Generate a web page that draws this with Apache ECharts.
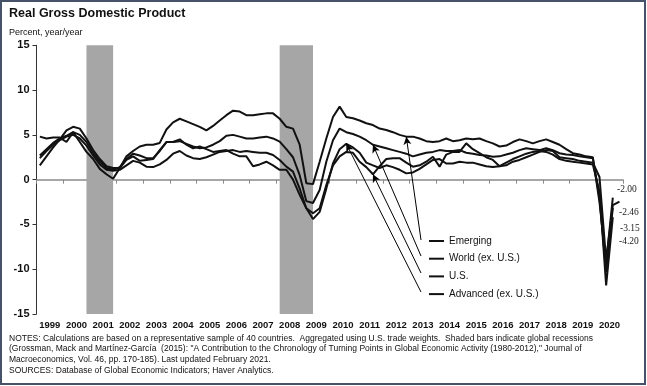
<!DOCTYPE html>
<html>
<head>
<meta charset="utf-8">
<script src="https://cdn.jsdelivr.net/npm/echarts@6/dist/echarts.min.js"></script>
<style>
html,body{margin:0;padding:0;background:#fff;}
#c{width:647px;height:386px;}
</style>
</head>
<body>
<div id="c"></div>
<script>
// ---- Data ----
const quarters = [
 '1999Q1','1999Q2','1999Q3','1999Q4','2000Q1','2000Q2','2000Q3','2000Q4',
 '2001Q1','2001Q2','2001Q3','2001Q4','2002Q1','2002Q2','2002Q3','2002Q4',
 '2003Q1','2003Q2','2003Q3','2003Q4','2004Q1','2004Q2','2004Q3','2004Q4',
 '2005Q1','2005Q2','2005Q3','2005Q4','2006Q1','2006Q2','2006Q3','2006Q4',
 '2007Q1','2007Q2','2007Q3','2007Q4','2008Q1','2008Q2','2008Q3','2008Q4',
 '2009Q1','2009Q2','2009Q3','2009Q4','2010Q1','2010Q2','2010Q3','2010Q4',
 '2011Q1','2011Q2','2011Q3','2011Q4','2012Q1','2012Q2','2012Q3','2012Q4',
 '2013Q1','2013Q2','2013Q3','2013Q4','2014Q1','2014Q2','2014Q3','2014Q4',
 '2015Q1','2015Q2','2015Q3','2015Q4','2016Q1','2016Q2','2016Q3','2016Q4',
 '2017Q1','2017Q2','2017Q3','2017Q4','2018Q1','2018Q2','2018Q3','2018Q4',
 '2019Q1','2019Q2','2019Q3','2019Q4','2020Q1','2020Q2','2020Q3','2020Q4'
];
const years = ['1999','2000','2001','2002','2003','2004','2005','2006','2007','2008','2009',
 '2010','2011','2012','2013','2014','2015','2016','2017','2018','2019','2020'];

const emerging = [
 1.6,2.6,3.6,4.5, 5.5,5.9,5.7,4.6, 3.3,2.3,1.5,1.3, 1.3,2.6,3.2,3.7,
 3.9,3.9,4.1,5.6, 6.4,6.8,6.5,6.2, 5.9,5.5,6.0,6.6, 7.2,7.7,7.6,7.2,
 7.2,7.3,7.4,7.4, 6.8,5.9,5.7,3.9, -0.4,-0.5,2.0,4.6, 7.0,8.15,7.0,6.85,
 6.6,6.3,6.1,5.7, 5.55,5.3,5.0,4.8, 4.8,4.6,4.3,4.2, 4.3,4.6,4.3,4.4,
 4.6,4.5,4.6,4.3, 4.05,3.7,3.8,4.2, 4.5,4.3,4.05,4.3, 4.5,4.2,3.9,3.4,
 2.95,2.8,2.6,2.5, -2.5,-9.3,-2.00
];
const worldExUS = [
 2.7,3.4,4.1,4.6, 4.9,5.3,5.0,4.2, 3.0,2.0,1.3,1.1, 1.4,2.3,2.9,2.7,
 2.4,2.4,3.2,4.2, 4.2,4.3,4.0,3.7, 3.5,3.6,3.9,4.3, 4.9,5.0,4.8,4.6,
 4.6,4.7,4.8,4.6, 4.25,3.4,2.5,0.5, -2.4,-2.6,-1.15,2.0, 4.4,5.7,5.3,5.1,
 4.8,4.4,3.9,3.7, 3.5,3.3,3.1,2.9, 2.6,2.8,3.0,3.1, 3.3,3.2,3.2,3.3,
 3.0,2.9,2.75,2.7, 2.55,2.6,2.8,3.0, 3.3,3.5,3.4,3.3, 3.5,3.3,2.95,2.8,
 2.75,2.6,2.5,2.4, -2.0,-10.3,-3.15
];
const us = [
 4.8,4.6,4.7,4.7, 4.2,5.3,4.2,3.1, 2.3,1.2,0.6,0.1, 1.3,2.2,2.6,2.1,
 2.2,2.3,3.3,4.2, 4.2,4.5,3.9,3.5, 3.7,3.4,3.1,3.2, 3.3,2.9,2.6,2.6,
 1.5,1.7,2.0,1.6, 1.1,1.1,0.0,-1.7, -3.2,-3.75,-3.2,-0.6, 1.6,2.6,3.1,3.0,
 2.0,1.4,0.6,1.5, 2.3,2.4,2.4,1.9, 1.45,1.6,2.0,2.55, 1.45,2.8,3.1,3.1,
 4.05,3.4,2.95,2.5, 2.2,1.5,1.6,2.0, 2.2,2.5,2.8,3.1, 3.3,3.2,2.5,2.4,
 2.3,2.1,2.0,1.9, 0.3,-9.0,-2.85,-2.46
];
const advancedExUS = [
 2.4,3.2,3.9,4.4, 4.8,5.0,4.6,3.8, 2.7,1.7,1.1,1.0, 1.1,1.6,2.1,1.9,
 1.45,1.4,1.7,2.2, 2.9,3.2,2.7,2.4, 2.3,2.5,2.8,3.1, 3.2,3.3,3.1,3.2,
 3.1,3.0,3.0,2.75, 2.2,1.45,0.9,-1.0, -3.2,-4.4,-3.6,-1.0, 1.8,3.4,4.0,3.6,
 3.0,1.9,1.6,1.3, 1.6,1.4,1.1,0.7, 0.8,1.2,1.7,2.2, 2.3,1.8,1.8,2.0,
 1.9,1.9,1.7,1.5, 1.4,1.5,1.9,2.3, 2.6,2.9,3.1,3.2, 3.1,2.8,2.3,2.1,
 2.0,1.9,1.8,1.7, -1.3,-11.8,-4.20
];

const seriesNames = ['Emerging','World (ex. U.S.)','U.S.','Advanced (ex. U.S.)'];
// Global recessions (shaded): [start quarter, end quarter]
const recessions = [['2000Q4','2001Q4'],['2008Q1','2009Q2']];
// Arrow tips from legend entries to lines: [quarter, value]
const arrowTips = [['2012Q4',4.8],['2011Q3',3.9],['2011Q3',0.6],['2010Q3',4.0]];
const yTicks = {min:-15, max:15, step:5};

const notes = [
 'NOTES: Calculations are based on a representative sample of 40 countries.  Aggregated using U.S. trade weights.  Shaded bars indicate global recessions',
 '(Grossman, Mack and Martínez-García  (2015): "A Contribution to the Chronology of Turning Points in Global Economic Activity (1980-2012)," Journal of',
 'Macroeconomics, Vol. 46, pp. 170-185). Last updated February 2021.',
 'SOURCES: Database of Global Economic Indicators; Haver Analytics.'
];

// ---- Layout / styles ----
const FONT = '"Liberation Sans", Arial, sans-serif';
const arrowTails = [[421,240],[421,256],[421,273],[421,292]];
// last-value labels at right edge (pixel layout: left x, middle y), per series
const endLabelPos = [[617,189],[620,228],[619,212],[619,241]];
const seriesData = [emerging, worldExUS, us, advancedExUS];

const chart = echarts.init(document.getElementById('c'), null, {renderer:'canvas'});

const lineSeries = seriesData.map((d, i) => ({
  name: seriesNames[i],
  type: 'line',
  xAxisIndex: 0, yAxisIndex: 0,
  data: d,
  showSymbol: false,
  symbol: 'none',
  z: 3,
  lineStyle: {color:'#111', width:2},
  itemStyle: {color:'#111'},
  emphasis: {disabled:true},
  markLine: {
    silent: true,
    symbol: ['arrow','none'],
    symbolSize: [6,8],
    label: {show:false},
    emphasis: {disabled:true},
    lineStyle: {color:'#000', width:1, type:'solid'},
    data: [[{coord: arrowTips[i]}, {x: arrowTails[i][0], y: arrowTails[i][1]}]]
  }
}));

const endLabels = seriesData.map((d, i) => ({
  type:'text', silent:true, z:50,
  x: endLabelPos[i][0], y: endLabelPos[i][1],
  style:{text: d[d.length-1].toFixed(2), fill:'#222',
    font:'9.5px "Liberation Serif", "Times New Roman", serif',
    textAlign:'left', textVerticalAlign:'middle'}
}));

const option = {
  animation: false,
  backgroundColor: '#fff',
  textStyle: {fontFamily: FONT},
  title: [
    {text:'Real Gross Domestic Product', left:9, top:7, padding:0,
     textStyle:{fontFamily:FONT, fontSize:12.5, fontWeight:'bold', color:'#111'}},
    {text:'Percent, year/year', left:9, top:28, padding:0,
     textStyle:{fontFamily:FONT, fontSize:9, fontWeight:'normal', color:'#111'}},
    {text: notes.join('\n'), left:9, top:333, padding:0,
     textStyle:{fontFamily:'"Liberation Sans Narrow", "Liberation Sans", Arial, sans-serif', fontSize:8.5, fontWeight:'normal', color:'#111', lineHeight:10.7}}
  ],
  grid: {left:36.5, right:24.2, top:45.3, bottom:72, containLabel:false},
  legend: {
    data: seriesNames,
    orient: 'vertical',
    left: 429, top: 235,
    padding: 0,
    itemWidth: 15, itemHeight: 2,
    itemGap: 5.7,
    icon: 'rect',
    selectedMode: false,
    textStyle: {fontFamily:FONT, fontSize:10, color:'#111', lineHeight:12}
  },
  xAxis: [
    {type:'category', data: quarters, boundaryGap:true,
     axisLine:{show:true, onZero:true, lineStyle:{color:'#8a8a8a', width:1.5}},
     axisTick:{show:true, interval:3, length:4, lineStyle:{color:'#8a8a8a', width:1}},
     axisLabel:{show:false}, splitLine:{show:false}},
    {type:'category', data: years, boundaryGap:true, position:'bottom',
     axisLine:{show:false, onZero:false}, axisTick:{show:false},
     axisLabel:{show:true, interval:0, hideOverlap:false, margin:6, fontFamily:FONT, fontSize:9.5, fontWeight:'bold', color:'#111'},
     splitLine:{show:false}}
  ],
  yAxis: {
    type:'value', min:yTicks.min, max:yTicks.max, interval:yTicks.step,
    axisLine:{show:true, onZero:false, lineStyle:{color:'#333', width:1}},
    axisTick:{show:true, length:4, lineStyle:{color:'#333'}},
    axisLabel:{fontFamily:FONT, fontSize:11, fontWeight:'bold', color:'#111', margin:7},
    splitLine:{show:false}
  },
  series: [
    {name:'recessions', type:'line', xAxisIndex:0, yAxisIndex:0, data:[], z:1, silent:true,
     markArea:{silent:true, itemStyle:{color:'#a6a6a6'},
       data: recessions.map(r => [{xAxis:r[0], yAxis:yTicks.max}, {xAxis:r[1], yAxis:yTicks.min}])}}
  ].concat(lineSeries),
  graphic: [
    {type:'rect', silent:true, z:100, shape:{x:1, y:1, width:644, height:383},
     style:{fill:'none', stroke:'#46526a', lineWidth:2}}
  ].concat(endLabels)
};
chart.setOption(option);
</script>
</body>
</html>
